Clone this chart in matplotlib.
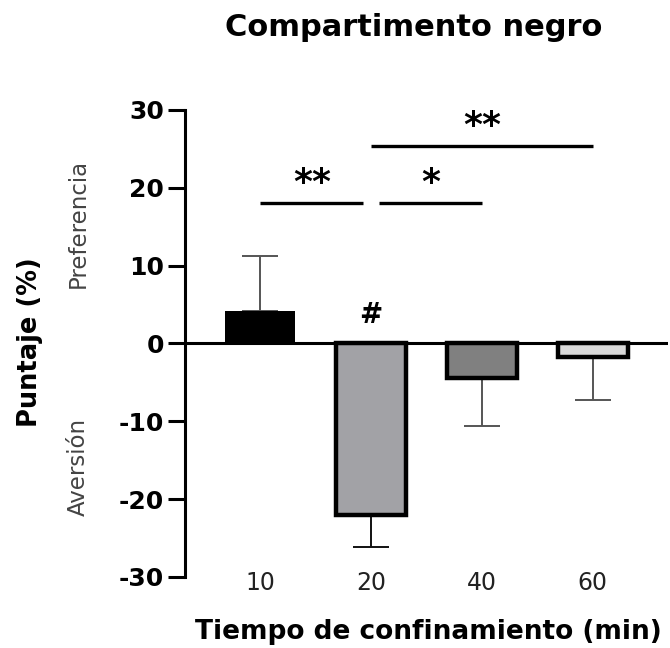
import matplotlib.pyplot as plt

plt.rcParams['font.family'] = ['DejaVu Sans']
plt.rcParams['axes.unicode_minus'] = False

# data
groups = ['10', '20', '40', '60']
means = [4.2, -22.0, -4.4, -1.8]
sem = [7.1, 4.1, 6.2, 5.4]
fills = ['#000000', '#a2a2a6', '#808080', '#d9d9d9']
err_colors = ['#555555', '#111111', '#555555', '#555555']

# significance brackets: (start, end, height, label)
sig_pairs = [(0, 0.93, 18.1, '**'), (1.07, 2.0, 18.1, '*'), (1.0, 3.0, 25.4, '**')]

fig = plt.figure(figsize=(6.7, 6.48), dpi=100)
ax = fig.add_axes([0.276, 0.1096, 0.721, 0.7207])

x = list(range(len(groups)))
for i in x:
    lo = sem[i] if means[i] < 0 else 0
    hi = sem[i] if means[i] > 0 else 0
    ax.errorbar(i, means[i], yerr=[[lo], [hi]], fmt='none', ecolor=err_colors[i],
                elinewidth=1.4, capsize=13, capthick=1.4, zorder=1)
    ax.bar(i, means[i], width=0.63, color=fills[i], edgecolor='black',
           linewidth=0 if i == 0 else 3.2, zorder=2)

ax.axhline(0, color='black', lw=2.2, zorder=3)

for x0, x1, h, lab in sig_pairs:
    ax.plot([x0, x1], [h, h], color='black', lw=2.4, solid_capstyle='butt')
    ax.text((x0 + x1) / 2, h + 0.3, lab, ha='center', va='bottom',
            fontsize=26, fontweight='bold')

ax.text(1, 1.9, '#', ha='center', va='bottom', fontsize=20, fontweight='bold')

ax.set_xlim(-0.68, 3.68)
ax.set_ylim(-30, 30)
ax.set_yticks([-30, -20, -10, 0, 10, 20, 30])
ax.set_xticks(x)
ax.set_xticklabels(groups)
ax.tick_params(axis='x', length=0, labelsize=17, pad=-4, colors='#222222')
ax.tick_params(axis='y', length=12, width=2.2, labelsize=18, pad=3)
for lbl in ax.get_yticklabels():
    lbl.set_fontweight('bold')

for s in ['top', 'right', 'bottom']:
    ax.spines[s].set_visible(False)
ax.spines['left'].set_linewidth(2.2)

fig.text(0.640, 1 - 639 / 648, 'Tiempo de confinamiento (min)', ha='center',
         va='baseline', fontsize=19, fontweight='bold')
fig.text(0.045, 1 - 342 / 648, 'Puntaje (%)', rotation=90, ha='center', va='center',
         fontsize=18.5, fontweight='bold')
fig.text(0.117, 1 - 223 / 648, 'Preferencia', rotation=90, ha='center', va='center',
         fontsize=16.5, color='#444444')
fig.text(0.117, 1 - 467 / 648, 'Aversión', rotation=90, ha='center', va='center',
         fontsize=16.5, color='#444444')
fig.text(414 / 670, 1 - 36 / 648, 'Compartimento negro', ha='center', va='baseline',
         fontsize=22, fontweight='bold')

fig.savefig('out.png', dpi=100)
